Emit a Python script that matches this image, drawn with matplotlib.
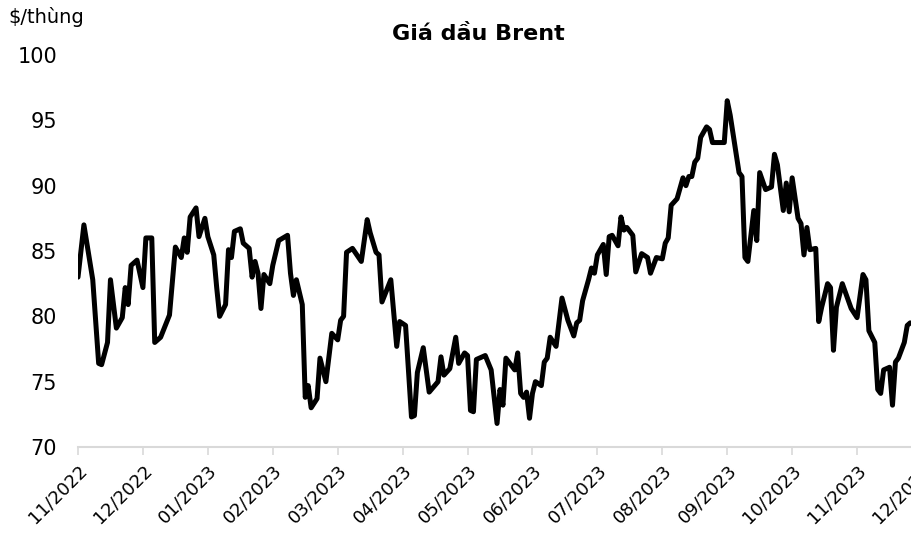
# Gia dau Brent - line chart, 11/2022 -> 12/2023
import numpy as np
import matplotlib.pyplot as plt

# trading-day index (22 sessions per month label) and price in $/thung
days = [0, 2, 5, 7, 8, 10, 11, 13, 15, 16, 17, 18, 20, 22, 23, 25, 26, 28, 31, 33,
        35, 36, 37, 38, 40, 41, 43, 44, 46, 47, 48, 50, 51, 52, 53, 55, 56, 58, 59, 60,
        61, 62, 63, 65, 66, 68, 71, 72, 73, 74, 76, 77, 78, 79, 81, 82, 84, 86, 88, 89,
        90, 91, 93, 96, 98, 99, 101, 102, 103, 106, 108, 109, 111, 113, 114, 115, 117, 119, 122, 123,
        124, 126, 128, 129, 131, 132, 133, 134, 135, 138, 140, 142, 143, 144, 145, 148, 149, 150, 151, 152,
        153, 154, 155, 157, 158, 159, 160, 162, 164, 166, 168, 169, 170, 171, 173, 174, 175, 176, 178, 179,
        180, 181, 183, 184, 185, 186, 188, 189, 191, 193, 194, 196, 198, 199, 200, 201, 203, 204, 205, 206,
        207, 208, 209, 210, 211, 213, 214, 215, 219, 220, 221, 224, 225, 226, 227, 229, 230, 231, 233, 235,
        236, 237, 239, 240, 241, 242, 244, 245, 246, 247, 248, 250, 251, 252, 254, 255, 256, 257, 259, 262,
        264, 266, 267, 268, 270, 271, 272, 273, 275, 276, 277, 278, 280, 281, 282]
prices = [83.0, 87.0, 82.8, 76.4, 76.3, 78.0, 82.8, 79.1, 79.9, 82.2, 80.9, 83.9, 84.3, 82.2, 86.0, 86.0, 78.0, 78.4, 80.1, 85.3,
          84.5, 86.0, 84.9, 87.6, 88.3, 86.1, 87.5, 86.1, 84.7, 82.2, 80.0, 80.9, 85.1, 84.5, 86.5, 86.7, 85.6, 85.2, 83.0, 84.2,
          83.3, 80.6, 83.2, 82.5, 83.9, 85.8, 86.2, 83.3, 81.6, 82.8, 80.9, 73.8, 74.7, 73.0, 73.7, 76.8, 75.0, 78.7, 78.2, 79.7,
          80.0, 84.9, 85.2, 84.2, 87.4, 86.4, 84.9, 84.7, 81.1, 82.8, 77.7, 79.6, 79.3, 72.3, 72.4, 75.7, 77.6, 74.2, 75.0, 76.9,
          75.5, 76.0, 78.4, 76.4, 77.2, 77.0, 72.8, 72.7, 76.7, 77.0, 75.9, 71.8, 74.4, 73.2, 76.8, 75.9, 77.2, 74.1, 73.8, 74.2,
          72.2, 74.1, 75.0, 74.7, 76.5, 76.8, 78.4, 77.7, 81.4, 79.7, 78.5, 79.5, 79.7, 81.2, 82.8, 83.7, 83.3, 84.7, 85.5, 83.2,
          86.1, 86.2, 85.4, 87.6, 86.6, 86.8, 86.2, 83.4, 84.8, 84.5, 83.3, 84.5, 84.4, 85.6, 86.0, 88.5, 89.0, 89.8, 90.6, 90.0,
          90.7, 90.7, 91.8, 92.1, 93.7, 94.5, 94.3, 93.3, 93.3, 96.5, 95.4, 91.0, 90.7, 84.5, 84.2, 88.1, 85.8, 91.0, 89.7, 89.9,
          92.4, 91.6, 88.1, 90.2, 88.0, 90.6, 87.5, 87.1, 84.7, 86.8, 85.1, 85.2, 79.6, 80.7, 82.5, 82.2, 77.4, 80.7, 82.5, 80.6,
          79.9, 83.2, 82.8, 78.9, 78.0, 74.4, 74.1, 75.9, 76.1, 73.2, 76.5, 76.8, 78.0, 79.3, 79.5]

month_labels = ["11/2022", "12/2022", "01/2023", "02/2023", "03/2023", "04/2023", "05/2023",
                "06/2023", "07/2023", "08/2023", "09/2023", "10/2023", "11/2023", "12/2023"]
sessions_per_label = 22

fig = plt.figure(figsize=(9.12, 5.33), dpi=100)
# axes runs a bit past the right edge, like the cropped original
ax = fig.add_axes([78 / 912, 86 / 533, 844 / 912, 392 / 533])

ax.plot(days, prices, color="black", lw=3.6, solid_joinstyle="round", solid_capstyle="round")

tick_pos = np.arange(len(month_labels)) * sessions_per_label
ax.set_xlim(0, tick_pos[-1])
ax.set_ylim(70, 100)
ax.set_xticks(tick_pos)
ax.set_xticklabels(month_labels, rotation=45, ha="right", va="top", rotation_mode="anchor", fontsize=13)
ax.set_yticks(np.arange(70, 101, 5))
ax.tick_params(axis="y", length=0, pad=15, labelsize=15)
ax.tick_params(axis="x", length=6, width=1.2, color="#D9D9D9", pad=4)

for side in ["top", "right", "left"]:
    ax.spines[side].set_visible(False)
ax.spines["bottom"].set_color("#D9D9D9")
ax.spines["bottom"].set_linewidth(1.5)

fig.text(0.524, 1 - 34 / 533, "Giá dầu Brent", ha="center", va="center", fontsize=16, fontweight="bold")
fig.text(8 / 912, 1 - 17 / 533, "$/thùng", ha="left", va="center", fontsize=14)

plt.savefig("out.png", dpi=100)
